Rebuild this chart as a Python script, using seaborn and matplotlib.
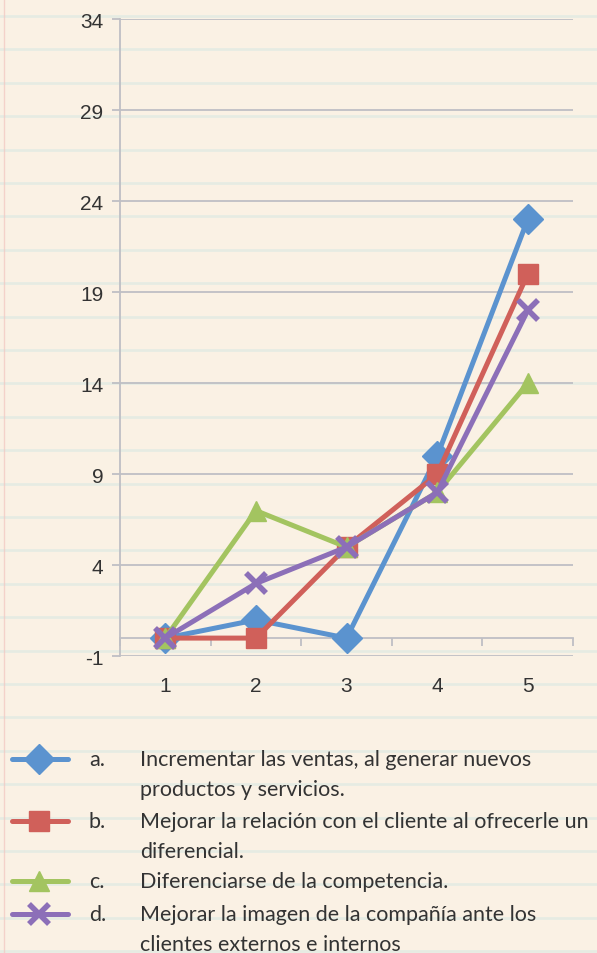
import numpy as np
import pandas as pd
import seaborn as sns
from matplotlib import pyplot as plt
from matplotlib.lines import Line2D

# data
x_vals = [1, 2, 3, 4, 5]
serie_a = [0, 1, 0, 10, 23]
serie_b = [0, 0, 5, 9, 20]
serie_c = [0, 7, 5, 8, 14]
serie_d = [0, 3, 5, 8, 18]
letras = ["a.", "b.", "c.", "d."]
textos = [
    ["Incrementar las ventas, al generar nuevos", "productos y servicios."],
    ["Mejorar la relación con el cliente al ofrecerle un", "diferencial."],
    ["Diferenciarse de la competencia."],
    ["Mejorar la imagen de la compañía ante los", "clientes externos e internos"],
]
y_ticks = list(range(-1, 35, 5))

colores = ["#5B93CF", "#D0605A", "#A3C460", "#8C6FB8"]
marcadores = ["D", "s", "^", "x"]
tamanos = [15, 14, 15, 14]

sns.set_style("white")
plt.rcParams["font.family"] = ["Liberation Sans", "DejaVu Sans"]
plt.rcParams["axes.unicode_minus"] = False

fig = plt.figure(figsize=(5.97, 9.54), dpi=100)
fig.patch.set_facecolor("#FAF1E4")

# lined paper background
for yy in np.arange(17, 954, 33.4):
    fig.add_artist(Line2D([0, 1], [1 - yy / 954, 1 - yy / 954], transform=fig.transFigure,
                          color="#D3E6E2", lw=2.0, alpha=0.5, zorder=0))
fig.add_artist(Line2D([0.006, 0.006], [0, 1], transform=fig.transFigure,
                      color="#F2C6C0", lw=1, alpha=0.7, zorder=0))

ax = fig.add_axes([0.201, 0.311, 0.759, 0.668])
ax.set_facecolor("none")

series = [serie_a, serie_b, serie_c, serie_d]
for vals, col, mk, ms in zip(series, colores, marcadores, tamanos):
    df = pd.DataFrame({"x": x_vals, "y": vals})
    sns.lineplot(data=df, x="x", y="y", ax=ax, color=col, lw=3.6,
                 marker=mk, markersize=ms, markeredgecolor=col,
                 markeredgewidth=4 if mk == "x" else 1, zorder=3)

ax.set_xlim(0.5, 5.5)
ax.set_ylim(-1, 34)
ax.set_yticks(y_ticks)
ax.set_xticks(x_vals)
ax.set_xticks(np.arange(0.5, 6, 1), minor=True)
ax.set_xlabel("")
ax.set_ylabel("")

ax.grid(axis="y", color="#BFBFC4", lw=1.3)
ax.grid(axis="x", visible=False)
for s in ["top", "right"]:
    ax.spines[s].set_visible(False)
ax.spines["left"].set_color("#BFBFC4")
ax.spines["left"].set_linewidth(1.3)
ax.spines["bottom"].set_position(("data", 0))
ax.spines["bottom"].set_color("#BFBFC4")
ax.spines["bottom"].set_linewidth(1.3)

ax.tick_params(axis="y", left=True, length=6, width=1.3, color="#BFBFC4",
               labelsize=15, labelcolor="#333333", pad=6)
ax.tick_params(axis="x", which="major", bottom=True, length=0,
               labelsize=15, labelcolor="#333333", pad=27)
ax.tick_params(axis="x", which="minor", bottom=True, length=6, width=1.3,
               color="#BFBFC4", direction="out")

# legend drawn below the chart
fuente = ["Lato", "DejaVu Sans"]
filas = [760, 822, 882, 915]
for fila, col, mk, ms, letra, lineas in zip(filas, colores, marcadores, tamanos, letras, textos):
    yf = 1 - fila / 954
    fig.add_artist(Line2D([12 / 597, 68 / 597], [yf, yf], transform=fig.transFigure,
                          color=col, lw=3.6, zorder=3))
    fig.add_artist(Line2D([39 / 597], [yf], transform=fig.transFigure, color=col,
                          marker=mk, markersize=ms, markeredgecolor=col,
                          markeredgewidth=4 if mk == "x" else 1, zorder=4))
    fig.text(89 / 597, yf, letra, fontsize=15.5, color="#333333", va="center", family=fuente)
    for k, linea in enumerate(lineas):
        fig.text(140 / 597, yf - k * 30 / 954, linea, fontsize=15.5, color="#333333",
                 va="center", family=fuente)

plt.savefig("out.png", dpi=100, facecolor=fig.get_facecolor())
